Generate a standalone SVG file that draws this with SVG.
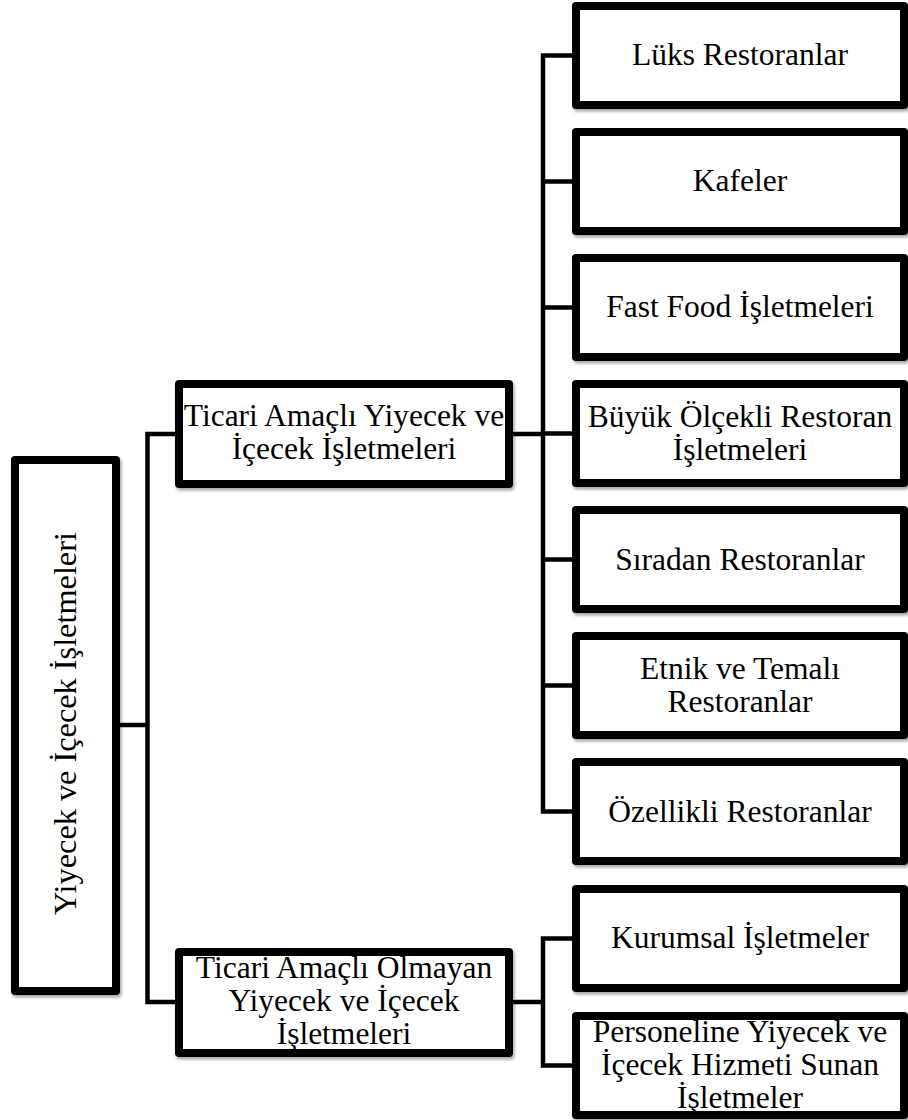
<svg xmlns="http://www.w3.org/2000/svg" width="908" height="1120" viewBox="0 0 908 1120">
  <defs>
    <filter id="shadow" x="-10%" y="-10%" width="120%" height="120%">
      <feDropShadow dx="1.5" dy="2.5" stdDeviation="1.5" flood-color="#000" flood-opacity="0.35"/>
    </filter>
  </defs>
  <style>
    .box { fill: #fff; stroke: #000; stroke-width: 8; stroke-linejoin: round; filter: url(#shadow); }
    .lbl { font-family: "Liberation Serif", "Times New Roman", serif; font-size: 31.5px; fill: #000; text-anchor: middle; }
    .wire { fill: none; stroke: #000; stroke-width: 4.5; stroke-linejoin: miter; }
  </style>
  <rect width="908" height="1120" fill="#fff"/>

  <!-- connectors -->
  <g id="connectors">
    <path class="wire" d="M120 725 H147.5"/>
    <path class="wire" d="M175 434 H147.5 V1002 H175"/>
    <path class="wire" d="M513 434 H543"/>
    <path class="wire" d="M572 55.5 H543 V811.5 H572"/>
    <path class="wire" d="M543 181.5 H572 M543 307.5 H572 M543 433.5 H572 M543 559.5 H572 M543 685.5 H572"/>
    <path class="wire" d="M513 1002 H543"/>
    <path class="wire" d="M572 938.5 H543 V1065.5 H572"/>
  </g>

  <!-- root -->
  <g id="root">
    <rect class="box" x="15" y="460" width="101" height="531"/>
    <text class="lbl" style="font-size:32.3px" transform="translate(75.5 723.5) rotate(-90)">Yiyecek ve İçecek İşletmeleri</text>
  </g>

  <!-- second level -->
  <g id="ticari">
    <rect class="box" x="179" y="384" width="330" height="100"/>
    <text class="lbl" x="344" y="426">Ticari Amaçlı Yiyecek ve</text>
    <text class="lbl" x="344" y="459">İçecek İşletmeleri</text>
  </g>
  <g id="ticari-olmayan">
    <rect class="box" x="179" y="952" width="330" height="101"/>
    <text class="lbl" x="344" y="978">Ticari Amaçlı Olmayan</text>
    <text class="lbl" x="344" y="1011">Yiyecek ve İçecek</text>
    <text class="lbl" x="344" y="1044">İşletmeleri</text>
  </g>

  <!-- commercial types -->
  <g id="luks">
    <rect class="box" x="576" y="6" width="328" height="99"/>
    <text class="lbl" x="740" y="65">Lüks Restoranlar</text>
  </g>
  <g id="kafeler">
    <rect class="box" x="576" y="132" width="328" height="99"/>
    <text class="lbl" x="740" y="191">Kafeler</text>
  </g>
  <g id="fastfood">
    <rect class="box" x="576" y="258" width="328" height="99"/>
    <text class="lbl" x="740" y="317">Fast Food İşletmeleri</text>
  </g>
  <g id="buyuk">
    <rect class="box" x="576" y="384" width="328" height="99"/>
    <text class="lbl" x="740" y="427">Büyük Ölçekli Restoran</text>
    <text class="lbl" x="740" y="460">İşletmeleri</text>
  </g>
  <g id="siradan">
    <rect class="box" x="576" y="510" width="328" height="99"/>
    <text class="lbl" x="740" y="569.5">Sıradan Restoranlar</text>
  </g>
  <g id="etnik">
    <rect class="box" x="576" y="636" width="328" height="99"/>
    <text class="lbl" x="740" y="679">Etnik ve Temalı</text>
    <text class="lbl" x="740" y="712">Restoranlar</text>
  </g>
  <g id="ozellikli">
    <rect class="box" x="576" y="762" width="328" height="99"/>
    <text class="lbl" x="740" y="821.5">Özellikli Restoranlar</text>
  </g>

  <!-- non-commercial types -->
  <g id="kurumsal">
    <rect class="box" x="576" y="889" width="328" height="99"/>
    <text class="lbl" x="740" y="948">Kurumsal İşletmeler</text>
  </g>
  <g id="personel">
    <rect class="box" x="576" y="1016" width="328" height="99"/>
    <text class="lbl" x="740" y="1042">Personeline Yiyecek ve</text>
    <text class="lbl" x="740" y="1075">İçecek Hizmeti Sunan</text>
    <text class="lbl" x="740" y="1108">İşletmeler</text>
  </g>
</svg>
